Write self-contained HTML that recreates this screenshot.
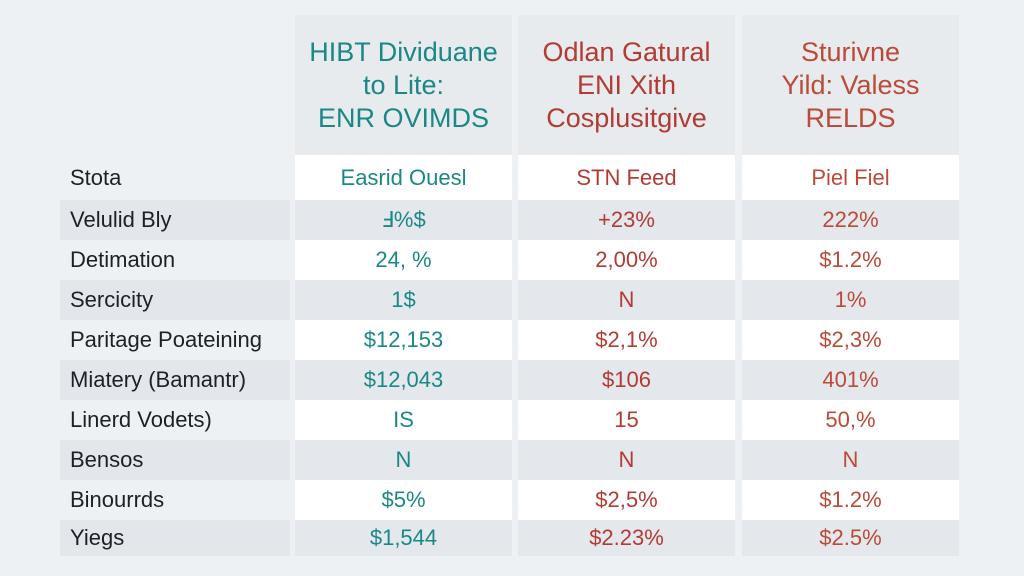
<!DOCTYPE html>
<html><head><meta charset="utf-8"><style>
body{margin:0;width:1024px;height:576px;background:#eef1f4;font-family:"Liberation Sans",sans-serif;position:relative;overflow:hidden}
.c{position:absolute;display:flex;align-items:center;justify-content:center;text-align:center}
.h{font-size:27px;line-height:33px;background:#e8ebee}
.l{position:absolute;left:60px;width:230px;display:flex;align-items:center;padding-left:10px;box-sizing:border-box;font-size:22px;color:#1c2126}
.v{font-size:22px}
.t{color:#1a8886}.r{color:#b23b34}.o{color:#bb4a38}
</style></head><body>
<div class="c h t" style="left:295px;top:15px;width:217px;height:140px">HIBT Dividuane<br>to Lite:<br>ENR OVIMDS</div>
<div class="c h r" style="left:518px;top:15px;width:217px;height:140px">Odlan Gatural<br>ENI Xith<br>Cosplusitgive</div>
<div class="c h o" style="left:742px;top:15px;width:217px;height:140px">Sturivne<br>Yild: Valess<br>RELDS</div>
<div id="rows"></div>
<script>
var rows=[["Stota","Easrid Ouesl","STN Feed","Piel Fiel"],
["Velulid Bly","Ⅎ%$","+23%","222%"],
["Detimation","24, %","2,00%","$1.2%"],
["Sercicity","1$","N","1%"],
["Paritage Poateining","$12,153","$2,1%","$2,3%"],
["Miatery (Bamantr)","$12,043","$106","401%"],
["Linerd Vodets)","IS","15","50,%"],
["Bensos","N","N","N"],
["Binourrds","$5%","$2,5%","$1.2%"],
["Yiegs","$1,544","$2.23%","$2.5%"]];
var ys=[155,200,240,280,320,360,400,440,480,520,556];
var xs=[295,518,742],cls=["t","r","o"],h="";
for(var i=0;i<rows.length;i++){var y=ys[i],hh=ys[i+1]-y,g=i%2==1;
h+='<div class="l" style="top:'+y+'px;height:'+hh+'px;'+(g?'background:#e3e7eb':'')+'">'+rows[i][0]+'</div>';
for(var j=0;j<3;j++)h+='<div class="c v '+cls[j]+'" style="left:'+xs[j]+'px;top:'+y+'px;width:217px;height:'+hh+'px;background:'+(g?'#e4e8ec':'#ffffff')+'">'+rows[i][j+1]+'</div>';}
document.getElementById("rows").innerHTML=h;
</script>
</body></html>
